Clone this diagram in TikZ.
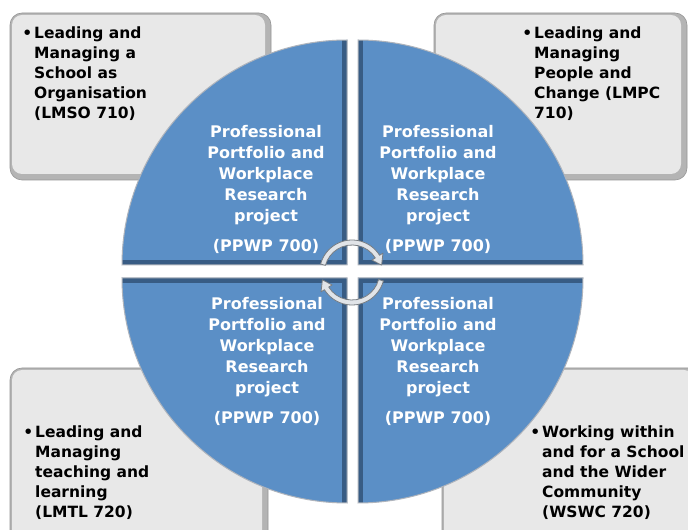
\documentclass[tikz,border=0pt]{standalone}
\usepackage{fontspec}
\setmainfont{DejaVu Sans}
\definecolor{qfill}{RGB}{91,143,198}
\definecolor{qdark}{RGB}{56,92,132}
\definecolor{qedge}{RGB}{175,180,188}
\definecolor{boxfill}{RGB}{232,232,232}
\definecolor{boxshade}{RGB}{180,180,180}
\definecolor{boxline}{RGB}{150,150,150}
\definecolor{arrfill}{RGB}{225,228,232}
\definecolor{arredge}{RGB}{120,125,130}
\newcommand{\drawbox}[4]{%
  \fill[boxshade, rounded corners=12] (#1,#2) rectangle (#3,#4);
  \fill[boxfill, rounded corners=10] (#1+2,#2+6) rectangle (#3-6,#4-2);
  \draw[boxline, line width=0.6, rounded corners=12] (#1,#2) rectangle (#3,#4);}
\newcommand{\drawquad}[3]{%
  \begin{scope}[shift={(#1,#2)}]
    \fill[qfill] (0,0) -- (#3:225) arc[start angle=#3, end angle=#3+90, radius=225] -- cycle;
    \begin{scope}
      \clip (0,0) -- (#3:225) arc[start angle=#3, end angle=#3+90, radius=225] -- cycle;
      \draw[qdark, line width=10] (#3:225) -- (0,0) -- (#3+90:225);
    \end{scope}
    \draw[qedge, line width=1] (0,0) -- (#3:225) arc[start angle=#3, end angle=#3+90, radius=225] -- cycle;
  \end{scope}}
\begin{document}
\begin{tikzpicture}[x=1pt,y=1pt,
  qtext/.style={text=white, font=\bfseries\fontsize{16}{21}\selectfont, align=center, inner sep=0},
  btext/.style={text=black, font=\bfseries\fontsize{15.5}{20}\selectfont, align=left, inner sep=0, anchor=north west},
  arrow/.style={fill=arrfill, draw=arredge, line width=0.8, line join=round}]
\useasboundingbox (0,0) rectangle (688,530);
\clip (0,0) rectangle (688,530);
\fill[white] (0,0) rectangle (688,530);
% boxes
\drawbox{10}{350}{271}{517}
\drawbox{434}{350}{687}{517}
\drawbox{10}{-20}{268}{162}
\drawbox{442}{-20}{700}{162}
% quadrants
\drawquad{347}{265}{90}
\drawquad{358}{265}{0}
\drawquad{347}{252}{180}
\drawquad{358}{252}{270}
% circular arrows
\begin{scope}[shift={(352,257.5)}]
  \path[arrow] (165:32.5) arc[start angle=165, end angle=32, radius=32.5]
    -- (32:36.5) -- (14:30.5) -- (32:23.5) -- (32:27.5)
    arc[start angle=32, end angle=165, radius=27.5] -- cycle;
  \path[arrow] (-15:32.5) arc[start angle=-15, end angle=-148, radius=32.5]
    -- (-148:36.5) -- (-166:30.5) -- (-148:23.5) -- (-148:27.5)
    arc[start angle=-148, end angle=-15, radius=27.5] -- cycle;
\end{scope}
% quadrant texts
\node[qtext] (tl) at (266,340.5) {Professional\\Portfolio and\\Workplace\\Research\\project\\[9pt](PPWP 700)};
\node[qtext] (tr) at (438,340.5) {Professional\\Portfolio and\\Workplace\\Research\\project\\[9pt](PPWP 700)};
\node[qtext] (bl) at (267,169) {Professional\\Portfolio and\\Workplace\\Research\\project\\[9pt](PPWP 700)};
\node[qtext] (br) at (438,169) {Professional\\Portfolio and\\Workplace\\Research\\project\\[9pt](PPWP 700)};
% box texts
\node[btext] (lmso) at (34,503) {\llap{•\hspace{2pt}}Leading and\\Managing a\\School as\\Organisation\\(LMSO 710)};
\node[btext] (lmpc) at (534,503) {\llap{•\hspace{2pt}}Leading and\\Managing\\People and\\Change (LMPC\\710)};
\node[btext] (lmtl) at (35,104) {\llap{•\hspace{2pt}}Leading and\\Managing\\teaching and\\learning\\(LMTL 720)};
\node[btext] (wswc) at (542,104) {\llap{•\hspace{2pt}}Working within\\and for a School\\and the Wider\\Community\\(WSWC 720)};
\end{tikzpicture}
\end{document}
